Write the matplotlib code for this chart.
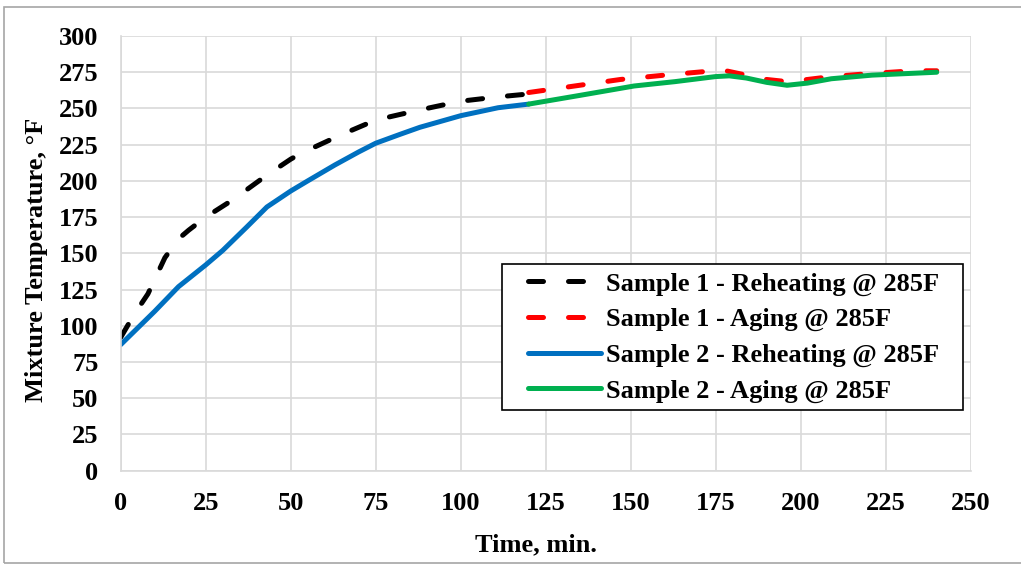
import numpy as np
from matplotlib import pyplot as plt
from matplotlib.patches import Rectangle
from matplotlib.lines import Line2D
from matplotlib.legend_handler import HandlerLine2D

# values
t_s1_reheat = [0, 4, 8, 13, 17, 20, 25, 33, 43, 50, 53, 65, 75, 88, 100, 111, 120]
s1_reheat = [92, 108, 122, 147, 160, 166, 175, 187, 204, 215, 219, 232, 242, 249, 255, 258, 260]

t_s1_aging = [120, 135, 147, 160, 172, 178, 184, 190, 196, 202, 209, 220, 233, 240]
s1_aging = [261, 266, 270, 273, 275.5, 276, 273, 270, 268.5, 270, 272, 274, 276, 276]

t_s2_reheat = [0, 10, 17, 25, 30, 37, 43, 50, 55, 63, 70, 75, 82, 88, 100, 111, 120]
s2_reheat = [87, 110, 127, 142, 152, 168, 182, 193, 200, 211, 220, 226, 232, 237, 245, 250.5, 253]

t_s2_aging = [120, 135, 151, 163, 175, 179, 184, 190, 196, 202, 209, 221, 240]
s2_aging = [253, 259, 265.5, 268.5, 272, 272.5, 271, 268, 266, 267.5, 270.5, 273, 275]

x_ticks = np.arange(0, 251, 25)
y_ticks = np.arange(0, 301, 25)

plt.rcParams['font.family'] = 'Liberation Serif'
plt.rcParams['font.weight'] = 'bold'

fig = plt.figure(figsize=(10.21, 5.65), dpi=100)
ax = fig.add_axes([120.7 / 1021, 94.3 / 565, 850 / 1021, 434.7 / 565])

# outer chart border
fig.patches.append(Rectangle((4 / 1021, 2 / 565), 1.2, 556 / 565, transform=fig.transFigure,
                             fill=False, edgecolor='#a6a6a6', linewidth=1.2))

lw = 3.6
ax.plot(t_s1_reheat, s1_reheat, color='black', lw=lw, dashes=(3, 5), dash_capstyle='round',
        label='Sample 1 - Reheating @ 285F')
ax.plot(t_s1_aging, s1_aging, color='#ff0000', lw=lw, dashes=(3, 5), dash_capstyle='round',
        label='Sample 1 - Aging @ 285F')
ax.plot(t_s2_reheat, s2_reheat, color='#0070c0', lw=lw, solid_capstyle='round',
        solid_joinstyle='round', label='Sample 2 - Reheating @ 285F')
ax.plot(t_s2_aging, s2_aging, color='#00b050', lw=lw, solid_capstyle='round',
        solid_joinstyle='round', label='Sample 2 - Aging @ 285F')

ax.set_xlim(0, 250)
ax.set_ylim(0, 300)
ax.set_xticks(x_ticks)
ax.set_yticks(y_ticks)
ax.grid(color='#d9d9d9', lw=1.2)
ax.set_axisbelow(True)
for s in ['top', 'right']:
    ax.spines[s].set_visible(False)
for s in ['left', 'bottom']:
    ax.spines[s].set_color('#d9d9d9')
    ax.spines[s].set_linewidth(1.2)
ax.tick_params(length=0, labelsize=19)
ax.tick_params(axis='x', pad=15)
ax.tick_params(axis='y', pad=16)

ax.set_xlabel('Time, min.', fontsize=19, fontweight='bold')
ax.set_ylabel('Mixture Temperature, °F', fontsize=19, fontweight='bold')
ax.xaxis.set_label_coords(0.4886, -0.145)
ax.yaxis.set_label_coords(-0.086, 0.484)

leg = ax.legend(loc='upper left', bbox_to_anchor=(0.4482, 0.147, 0.543, 0.328), mode='expand',
                borderaxespad=0, fontsize=19, handlelength=3.47, handletextpad=0.18,
                labelspacing=0.45, borderpad=0.3,
                handler_map={Line2D: HandlerLine2D(xpad=0.7)},
                fancybox=False, framealpha=1, edgecolor='black')
leg.get_frame().set_linewidth(1.2)

plt.savefig('out.png', dpi=100)
plt.close()
